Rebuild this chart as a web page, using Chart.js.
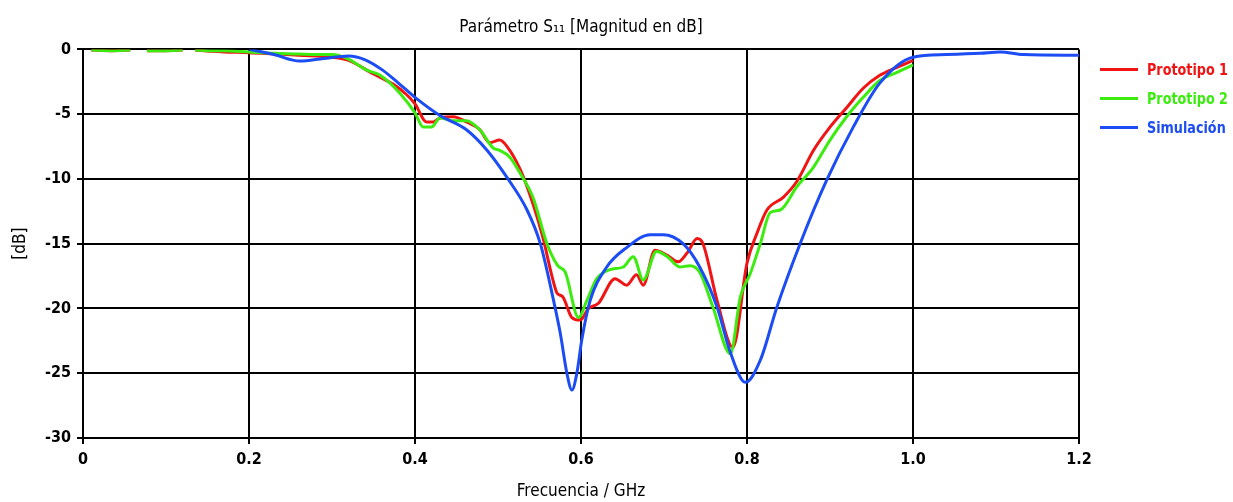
<!DOCTYPE html>
<html>
<head>
<meta charset="utf-8">
<script src="https://cdn.jsdelivr.net/npm/chart.js@4/dist/chart.umd.min.js"></script>
<style>
    html, body { margin: 0; padding: 0; background: #fff; }
    #wrap { width: 1233px; height: 502px; }
</style>
</head>
<body>
<div id="wrap"><canvas id="s11"></canvas></div>
<script>
const p1Freq = [0.01, 0.035, 0.057, 0.067, 0.077, 0.10, 0.12, 0.128, 0.135, 0.155, 0.17, 0.20, 0.23, 0.26, 0.30, 0.32, 0.35, 0.374, 0.39, 0.40, 0.414, 0.422, 0.43, 0.446, 0.462, 0.478, 0.49, 0.502, 0.511, 0.527, 0.542, 0.554, 0.565, 0.571, 0.578, 0.589, 0.599, 0.609, 0.621, 0.641, 0.655, 0.667, 0.675, 0.689, 0.704, 0.717, 0.728, 0.740, 0.747, 0.764, 0.783, 0.80, 0.812, 0.824, 0.844, 0.86, 0.88, 0.90, 0.92, 0.94, 0.96, 0.98, 1.0];
const p1Db   = [-0.05, -0.1, -0.05, null, -0.1, -0.1, -0.05, null, -0.05, -0.15, -0.2, -0.25, -0.35, -0.45, -0.6, -0.85, -1.9, -2.7, -3.5, -4.2, -5.6, -5.6, -5.3, -5.2, -5.6, -6.2, -7.2, -7.0, -7.5, -9.3, -11.9, -14.5, -17.5, -18.8, -19.1, -20.7, -20.9, -20.0, -19.6, -17.7, -18.2, -17.4, -18.2, -15.5, -15.9, -16.4, -15.7, -14.6, -15.0, -19.4, -23.0, -16.5, -14.2, -12.4, -11.4, -10.2, -7.8, -6.0, -4.5, -3.0, -2.0, -1.4, -0.85];

const p2Freq = [0.01, 0.035, 0.057, 0.067, 0.077, 0.10, 0.12, 0.128, 0.135, 0.155, 0.17, 0.20, 0.23, 0.26, 0.28, 0.30, 0.318, 0.342, 0.358, 0.382, 0.40, 0.41, 0.42, 0.43, 0.446, 0.462, 0.478, 0.494, 0.502, 0.514, 0.527, 0.542, 0.559, 0.572, 0.581, 0.597, 0.607, 0.619, 0.635, 0.651, 0.663, 0.675, 0.691, 0.704, 0.719, 0.731, 0.743, 0.759, 0.78, 0.792, 0.804, 0.816, 0.828, 0.84, 0.86, 0.88, 0.90, 0.92, 0.94, 0.96, 0.98, 1.0];
const p2Db   = [-0.05, -0.1, -0.05, null, -0.1, -0.1, -0.05, null, -0.05, -0.1, -0.1, -0.2, -0.3, -0.35, -0.4, -0.4, -0.7, -1.6, -2.0, -3.4, -4.9, -6.0, -6.0, -5.3, -5.5, -5.5, -6.2, -7.6, -7.8, -8.3, -9.6, -11.4, -15.0, -16.7, -17.2, -20.7, -19.4, -17.7, -17.0, -16.8, -16.0, -17.8, -15.6, -16.0, -16.8, -16.7, -17.2, -19.9, -23.5, -19.1, -17.3, -15.0, -12.6, -12.4, -10.6, -9.1, -7.0, -5.2, -3.7, -2.4, -1.8, -1.2];

const simFreq = [0.20, 0.23, 0.261, 0.29, 0.32, 0.34, 0.361, 0.38, 0.40, 0.43, 0.462, 0.487, 0.511, 0.535, 0.551, 0.566, 0.575, 0.583, 0.589, 0.595, 0.601, 0.611, 0.631, 0.655, 0.683, 0.699, 0.723, 0.743, 0.764, 0.78, 0.798, 0.816, 0.836, 0.864, 0.896, 0.928, 0.96, 1.0, 1.04, 1.081, 1.105, 1.133, 1.2];
const simDb   = [0, -0.4, -0.9, -0.7, -0.5, -0.8, -1.6, -2.6, -3.7, -5.1, -6.2, -7.8, -9.9, -12.4, -15.0, -19.1, -21.9, -25.0, -26.3, -25.0, -22.4, -19.4, -16.8, -15.3, -14.3, -14.3, -15.0, -16.8, -19.9, -23.4, -25.7, -24.0, -19.9, -15.0, -10.1, -6.0, -2.6, -0.6, -0.4, -0.3, -0.2, -0.4, -0.45];

const seriesNames = ['Prototipo 1', 'Prototipo 2', 'Simulación'];
const seriesColors = ['#f01414', '#3cec10', '#1c4cf4'];

const FONT = '"DejaVu Sans Condensed", "DejaVu Sans", sans-serif';

const toPoints = (xs, ys) => xs.map((x, i) => ({ x: x, y: ys[i] }));

const series = [
    toPoints(p1Freq, p1Db),
    toPoints(p2Freq, p2Db),
    toPoints(simFreq, simDb)
];

// legend on the right: coloured line + coloured (narrowed) label per series
const sideLegend = {
    id: 'sideLegend',
    afterDraw(chart) {
        const ctx = chart.ctx;
        const x0 = chart.chartArea.right + 21;
        ctx.save();
        ctx.font = 'bold 16px ' + FONT;
        ctx.textBaseline = 'middle';
        const squeeze = 81 / ctx.measureText(seriesNames[0]).width;
        chart.data.datasets.forEach((ds, i) => {
            const y = chart.chartArea.top + 20 + i * 29;
            ctx.strokeStyle = ds.borderColor;
            ctx.lineWidth = 3;
            ctx.beginPath();
            ctx.moveTo(x0, y);
            ctx.lineTo(x0 + 38, y);
            ctx.stroke();
            ctx.save();
            ctx.translate(x0 + 47, y + 1);
            ctx.scale(squeeze, 1);
            ctx.fillStyle = ds.borderColor;
            ctx.fillText(ds.label, 0, 0);
            ctx.restore();
        });
        ctx.restore();
    }
};

new Chart(document.getElementById('s11'), {
    type: 'line',
    data: {
        datasets: series.map((pts, i) => ({
            label: seriesNames[i],
            data: pts,
            borderColor: seriesColors[i],
            borderWidth: 3,
            pointRadius: 0,
            fill: false,
            spanGaps: false,
            cubicInterpolationMode: 'monotone',
            order: 2 - i
        }))
    },
    options: {
        responsive: true,
        maintainAspectRatio: false,
        animation: false,
        layout: { padding: { left: 0, right: 154, top: 0, bottom: 0 } },
        plugins: {
            legend: { display: false },
            tooltip: { enabled: false },
            title: {
                display: true,
                text: 'Parámetro S₁₁ [Magnitud en dB]',
                fullSize: false,
                color: '#000',
                font: { family: FONT, size: 17, weight: 'normal' },
                padding: { top: 17, bottom: 12 }
            }
        },
        scales: {
            x: {
                type: 'linear',
                min: 0,
                max: 1.2,
                afterFit: (s) => { s.height = 64; },
                ticks: {
                    stepSize: 0.2,
                    color: '#000',
                    font: { family: FONT, size: 16, weight: 'bold' },
                    padding: 6
                },
                grid: { color: '#000', lineWidth: 2, tickLength: 6 },
                border: { color: '#000', width: 2 },
                title: {
                    display: true,
                    text: 'Frecuencia / GHz',
                    color: '#000',
                    font: { family: FONT, size: 17, weight: 'normal' },
                    padding: { top: 4, bottom: 0 }
                }
            },
            y: {
                min: -30,
                max: 0,
                afterFit: (s) => { s.width = 83; },
                ticks: {
                    stepSize: 5,
                    color: '#000',
                    font: { family: FONT, size: 16, weight: 'bold' },
                    padding: 6
                },
                grid: { color: '#000', lineWidth: 2, tickLength: 6 },
                border: { color: '#000', width: 2 },
                title: {
                    display: true,
                    text: '[dB]',
                    color: '#000',
                    font: { family: FONT, size: 17, weight: 'normal' },
                    padding: { top: 10, bottom: 0 }
                }
            }
        }
    },
    plugins: [sideLegend]
});
</script>
</body>
</html>
